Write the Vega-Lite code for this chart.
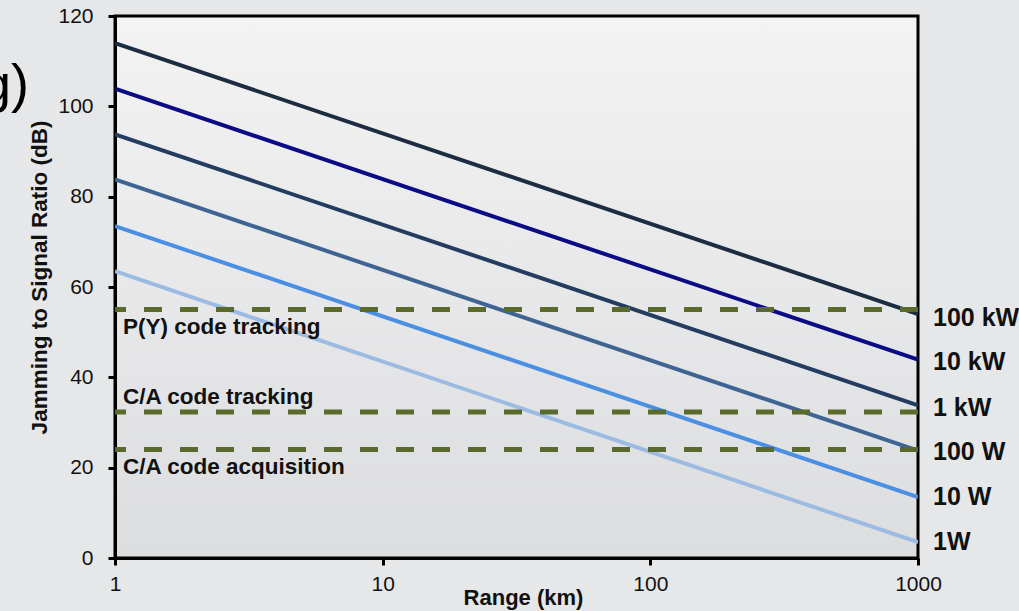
{
  "$schema": "https://vega.github.io/schema/vega-lite/v6.json",
  "width": 803,
  "height": 542,
  "autosize": "none",
  "padding": {"left": 115, "top": 16, "right": 101, "bottom": 53},
  "background": "#e6e7e8",
  "config": {
    "font": "Liberation Sans",
    "view": {"stroke": "#000000", "strokeWidth": 3, "fill": {"gradient": "linear", "x1": 0, "y1": 0, "x2": 0, "y2": 1, "stops": [{"offset": 0, "color": "#f3f3f3"}, {"offset": 1, "color": "#dcdddf"}]}}
  },
  "title": {"text": "g)", "fontSize": 54, "fontWeight": "normal", "color": "#000000", "anchor": "start", "frame": "group", "align": "right", "baseline": "alphabetic", "dx": -86, "dy": 155},
  "layer": [
    {
      "data": {"values": [
        {"power": "1W", "range": 1, "jsr": 63.5}, {"power": "1W", "range": 1000, "jsr": 3.5},
        {"power": "10 W", "range": 1, "jsr": 73.5}, {"power": "10 W", "range": 1000, "jsr": 13.5},
        {"power": "100 W", "range": 1, "jsr": 83.8}, {"power": "100 W", "range": 1000, "jsr": 23.8},
        {"power": "1 kW", "range": 1, "jsr": 93.8}, {"power": "1 kW", "range": 1000, "jsr": 33.8},
        {"power": "10 kW", "range": 1, "jsr": 103.9}, {"power": "10 kW", "range": 1000, "jsr": 43.9},
        {"power": "100 kW", "range": 1, "jsr": 114}, {"power": "100 kW", "range": 1000, "jsr": 54}
      ]},
      "mark": {"type": "line", "strokeWidth": 4, "clip": true},
      "encoding": {
        "x": {"field": "range", "type": "quantitative", "scale": {"type": "log", "domain": [1, 1000]},
          "axis": {"title": "Range (km)", "values": [1, 10, 100, 1000], "format": "d", "grid": false, "labelFontSize": 21, "labelColor": "#111111", "labelPadding": 8, "tickSize": 7, "tickWidth": 3, "tickColor": "#000000", "domainColor": "#000000", "domainWidth": 3, "titleFontSize": 22, "titleFontWeight": "bold", "titleColor": "#111111", "titlePadding": -7, "titleX": 408, "labelFlush": false}},
        "y": {"field": "jsr", "type": "quantitative", "scale": {"domain": [0, 120], "nice": false},
          "axis": {"title": "Jamming to Signal Ratio (dB)", "values": [0, 20, 40, 60, 80, 100, 120], "grid": false, "labelFontSize": 21, "labelColor": "#111111", "labelPadding": 15, "tickSize": 7, "tickWidth": 3, "tickColor": "#000000", "domainColor": "#000000", "domainWidth": 3, "titleFontSize": 22.5, "titleFontWeight": "bold", "titleColor": "#111111", "titlePadding": 6, "titleY": 261}},
        "color": {"field": "power", "type": "nominal", "legend": null,
          "scale": {"domain": ["100 kW", "10 kW", "1 kW", "100 W", "10 W", "1W"], "range": ["#1c2d42", "#0b0b85", "#233d61", "#3e6493", "#4b8fe2", "#9bbbe2"]}},
        "detail": {"field": "power"}
      }
    },
    {
      "data": {"values": [{"level": 55}, {"level": 32.3}, {"level": 24}]},
      "mark": {"type": "rule", "strokeWidth": 5, "strokeDash": [18, 18], "color": "#5a6a2c"},
      "encoding": {"y": {"field": "level", "type": "quantitative"}}
    },
    {
      "data": {"values": [
        {"label": "P(Y) code tracking", "range": 1, "jsr": 51.1},
        {"label": "C/A code tracking", "range": 1, "jsr": 35.6},
        {"label": "C/A code acquisition", "range": 1, "jsr": 20.1}
      ]},
      "mark": {"type": "text", "align": "left", "baseline": "middle", "dx": 8, "fontSize": 22.5, "fontWeight": "bold", "color": "#111111"},
      "encoding": {
        "x": {"field": "range", "type": "quantitative"},
        "y": {"field": "jsr", "type": "quantitative"},
        "text": {"field": "label"}
      }
    },
    {
      "data": {"values": [
        {"label": "100 kW", "range": 1000, "jsr": 53.1},
        {"label": "10 kW", "range": 1000, "jsr": 43.4},
        {"label": "1 kW", "range": 1000, "jsr": 33.3},
        {"label": "100 W", "range": 1000, "jsr": 23.5},
        {"label": "10 W", "range": 1000, "jsr": 13.5},
        {"label": "1W", "range": 1000, "jsr": 3.5}
      ]},
      "mark": {"type": "text", "align": "left", "baseline": "middle", "dx": 15, "fontSize": 25, "fontWeight": "bold", "color": "#111111"},
      "encoding": {
        "x": {"field": "range", "type": "quantitative"},
        "y": {"field": "jsr", "type": "quantitative"},
        "text": {"field": "label"}
      }
    }
  ]
}
